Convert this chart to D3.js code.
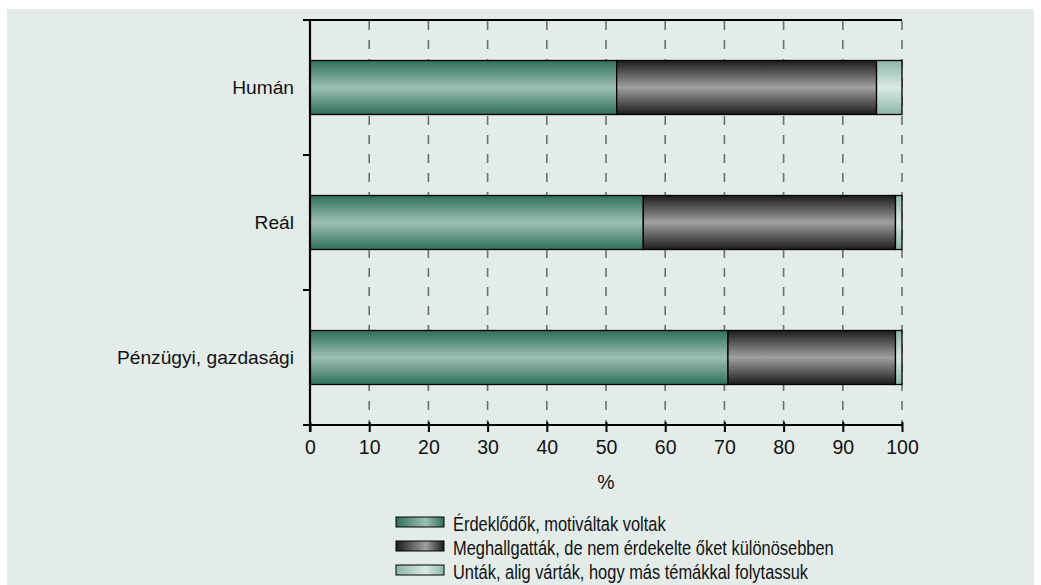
<!DOCTYPE html>
<html>
<head>
<meta charset="utf-8">
<script src="https://cdn.jsdelivr.net/npm/d3@7"></script>
<style>
  html, body { margin: 0; padding: 0; background: #ffffff; }
  svg { display: block; }
  .cat { font-family: "Liberation Sans", Arial, sans-serif; font-size: 19.2px; fill: #111; }
  .tick-label { font-family: "Liberation Sans", Arial, sans-serif; font-size: 19.5px; fill: #111; }
  .legend-text { font-family: "Liberation Sans", Arial, sans-serif; font-size: 19.5px; fill: #111; }
</style>
</head>
<body>
<svg id="chart" width="1041" height="585"></svg>
<script>
// Subject groups and the share (%) of students in each attitude group
const categories = ["Humán", "Reál", "Pénzügyi, gazdasági"];
const interested = [51.8, 56.3, 70.6];
const listened = [43.9, 42.6, 28.3];
const bored = [4.3, 1.1, 1.1];
const seriesNames = [
  "Érdeklődők, motiváltak voltak",
  "Meghallgatták, de nem érdekelte őket különösebben",
  "Unták, alig várták, hogy más témákkal folytassuk"
];
const xTicks = [0, 10, 20, 30, 40, 50, 60, 70, 80, 90, 100];
const axisTitle = "%";

const seriesValues = [interested, listened, bored];
const palettes = [
  { edge: "#2f6f5b", mid: "#9dc0b4" },
  { edge: "#1c1c1c", mid: "#a0a0a0" },
  { edge: "#8cb6a8", mid: "#d9e9e3" }
];

const svg = d3.select("#chart");
const defs = svg.append("defs");

// Vertical "cylinder" gradients for the bars, horizontal ones for legend keys
palettes.forEach((p, i) => {
  const gv = defs.append("linearGradient").attr("id", "bar" + i)
    .attr("x1", 0).attr("y1", 0).attr("x2", 0).attr("y2", 1);
  gv.append("stop").attr("offset", "0%").attr("stop-color", p.edge);
  gv.append("stop").attr("offset", "50%").attr("stop-color", p.mid);
  gv.append("stop").attr("offset", "100%").attr("stop-color", p.edge);

  const gh = defs.append("linearGradient").attr("id", "key" + i)
    .attr("x1", 0).attr("y1", 0).attr("x2", 1).attr("y2", 0);
  gh.append("stop").attr("offset", "0%").attr("stop-color", p.edge);
  gh.append("stop").attr("offset", "62%").attr("stop-color", p.mid);
  gh.append("stop").attr("offset", "100%").attr("stop-color", p.edge);
});

// Panel background
svg.append("rect").attr("x", 7).attr("y", 9).attr("width", 1027).attr("height", 576)
  .attr("fill", "#e4ecea");

const plotLeft = 310, plotRight = 902, plotTop = 20, plotBottom = 425;

const x = d3.scaleLinear().domain([0, 100]).range([plotLeft, plotRight]);
const y = d3.scaleBand().domain(categories).range([plotTop, plotBottom])
  .paddingInner(0.6).paddingOuter(0.3);

// Dashed vertical gridlines
svg.append("g").selectAll("line").data(xTicks.filter(d => d > 0)).join("line")
  .attr("x1", d => x(d)).attr("x2", d => x(d))
  .attr("y1", plotTop + 1).attr("y2", plotBottom)
  .attr("stroke", "#6e6e6e").attr("stroke-width", 1.6)
  .attr("stroke-dasharray", "9,10");

// Stacked bars
const stacked = categories.map((c, ci) => {
  let acc = 0;
  return seriesValues.map((vals, si) => {
    const start = acc;
    acc += vals[ci];
    return { cat: c, series: si, x0: start, x1: acc };
  });
}).flat();

svg.append("g").selectAll("rect").data(stacked).join("rect")
  .attr("x", d => x(d.x0))
  .attr("width", d => x(d.x1) - x(d.x0))
  .attr("y", d => y(d.cat))
  .attr("height", y.bandwidth())
  .attr("fill", d => "url(#bar" + d.series + ")")
  .attr("stroke", "#000").attr("stroke-width", 1.3);

// Top frame line
svg.append("line").attr("x1", plotLeft - 7).attr("x2", plotRight).attr("y1", plotTop).attr("y2", plotTop)
  .attr("stroke", "#000").attr("stroke-width", 2);

// Category axis: ticks at band boundaries
const boundaries = [plotTop, ...categories.slice(1).map(c => y(c) - y.step() * y.paddingInner() / 2), plotBottom];
svg.append("g").selectAll("line").data(boundaries).join("line")
  .attr("x1", plotLeft - 7).attr("x2", plotLeft).attr("y1", d => d).attr("y2", d => d)
  .attr("stroke", "#000").attr("stroke-width", 2);
svg.append("line").attr("x1", plotLeft).attr("x2", plotLeft).attr("y1", plotTop - 1).attr("y2", plotBottom + 7)
  .attr("stroke", "#000").attr("stroke-width", 2.2);

svg.append("g").selectAll("text").data(categories).join("text")
  .attr("class", "cat")
  .attr("x", 294)
  .attr("y", d => y(d) + y.bandwidth() / 2)
  .attr("dy", "0.35em")
  .attr("text-anchor", "end")
  .text(d => d);

// Value axis
const xAxis = d3.axisBottom(x).tickValues(xTicks).tickSize(7).tickPadding(8).tickFormat(d3.format("d"));
const gx = svg.append("g").attr("transform", `translate(0,${plotBottom})`).call(xAxis);
gx.attr("font-family", null).attr("font-size", null);
gx.select(".domain").attr("d", `M${plotLeft - 7},0H${plotRight}`).attr("stroke", "#000").attr("stroke-width", 2.2);
gx.selectAll(".tick line").attr("stroke", "#000").attr("stroke-width", 2).attr("y1", -3);
gx.selectAll(".tick text").attr("class", "tick-label").attr("fill", "#111");

svg.append("text").attr("class", "tick-label")
  .attr("x", x(50)).attr("y", 489).attr("text-anchor", "middle").text(axisTitle);

// Legend (condensed lettering)
const legend = svg.append("g").attr("transform", "translate(396,517)");
const rows = legend.selectAll("g").data(seriesNames).join("g")
  .attr("transform", (d, i) => `translate(0,${i * 24})`);
rows.append("rect").attr("width", 48).attr("height", 10)
  .attr("fill", (d, i) => "url(#key" + i + ")")
  .attr("stroke", "#000").attr("stroke-width", 1);
rows.append("text").attr("class", "legend-text")
  .attr("transform", "translate(57,13.5) scale(0.843,1)")
  .text(d => d);
</script>
</body>
</html>
